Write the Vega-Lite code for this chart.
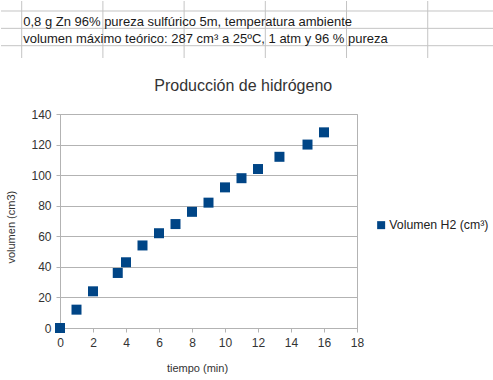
{
  "$schema": "https://vega.github.io/schema/vega-lite/v6.json",
  "padding": 0,
  "background": "white",
  "columns": 1,
  "spacing": 18,
  "config": {
    "font": "Liberation Sans",
    "view": {"stroke": "#b3b3b3"}
  },
  "resolve": {
    "scale": {"x": "independent", "y": "independent", "color": "independent"},
    "axis": {"x": "independent", "y": "independent"},
    "legend": {"color": "independent"}
  },
  "datasets": {
    "columnas": [{"col": 0}, {"col": 1}, {"col": 2}, {"col": 3}, {"col": 4}, {"col": 5}],
    "filas": [{"fila": 0}, {"fila": 1}, {"fila": 2}],
    "celdas": [
      {"col": 0, "fila": 1, "texto": "0,8 g Zn 96% pureza sulfúrico 5m, temperatura ambiente"},
      {"col": 0, "fila": 2, "texto": "volumen máximo teórico: 287 cm³ a 25ºC, 1 atm y 96 % pureza"}
    ],
    "medidas": [
      {"tiempo": 0, "volumen": 0},
      {"tiempo": 1, "volumen": 12},
      {"tiempo": 2, "volumen": 24},
      {"tiempo": 3.5, "volumen": 36},
      {"tiempo": 4, "volumen": 43},
      {"tiempo": 5, "volumen": 54},
      {"tiempo": 6, "volumen": 62},
      {"tiempo": 7, "volumen": 68},
      {"tiempo": 8, "volumen": 76},
      {"tiempo": 9, "volumen": 82},
      {"tiempo": 10, "volumen": 92},
      {"tiempo": 11, "volumen": 98},
      {"tiempo": 12, "volumen": 104},
      {"tiempo": 13.3, "volumen": 112},
      {"tiempo": 15, "volumen": 120},
      {"tiempo": 16, "volumen": 128}
    ]
  },
  "concat": [
    {
      "width": 434,
      "height": 57,
      "view": {"stroke": null},
      "layer": [
        {
          "data": {"name": "columnas"},
          "mark": {"type": "rule", "color": "#c4c4c4", "strokeWidth": 1},
          "encoding": {
            "x": {"field": "col", "type": "quantitative", "scale": {"domain": [0.4717, 5.816], "nice": false, "zero": false}, "axis": null}
          }
        },
        {
          "data": {"name": "filas"},
          "mark": {"type": "rule", "color": "#c4c4c4", "strokeWidth": 1},
          "encoding": {
            "x": {"datum": -0.255, "type": "quantitative", "scale": {"domain": [0.4717, 5.816], "nice": false, "zero": false}, "axis": null},
            "x2": {"datum": 5.816},
            "y": {"field": "fila", "type": "quantitative", "scale": {"domain": [-0.576, 2.709], "nice": false, "zero": false, "reverse": true}, "axis": null}
          }
        },
        {
          "data": {"name": "celdas"},
          "mark": {"type": "text", "align": "left", "baseline": "alphabetic", "dx": 1.5, "dy": -2.2, "fontSize": 13, "color": "#1a1a1a"},
          "encoding": {
            "x": {"field": "col", "type": "quantitative", "scale": {"domain": [0.4717, 5.816], "nice": false, "zero": false}, "axis": null},
            "y": {"field": "fila", "type": "quantitative", "scale": {"domain": [-0.576, 2.709], "nice": false, "zero": false, "reverse": true}, "axis": null},
            "text": {"field": "texto"}
          }
        }
      ]
    },
    {
      "width": 297,
      "height": 214,
      "title": {"text": "Producción de hidrógeno", "fontSize": 16, "fontWeight": "normal", "color": "#333333", "anchor": "middle", "frame": "bounds", "offset": 14, "dx": -4},
      "data": {"name": "medidas"},
      "mark": {"type": "point", "shape": "square", "filled": true, "size": 100, "opacity": 1},
      "encoding": {
        "x": {
          "field": "tiempo", "type": "quantitative",
          "scale": {"domain": [0, 18], "nice": false, "zero": false},
          "axis": {
            "values": [0, 2, 4, 6, 8, 10, 12, 14, 16, 18],
            "grid": false,
            "title": "tiempo (min)",
            "titleFontSize": 11, "titleFontWeight": "normal", "titleColor": "#333333",
            "titlePadding": 14, "titleX": 137,
            "labelFontSize": 12, "labelColor": "#333333", "labelPadding": 5,
            "labelFlush": false, "labelOverlap": false,
            "tickSize": 4, "tickColor": "#b3b3b3", "domainColor": "#b3b3b3"
          }
        },
        "y": {
          "field": "volumen", "type": "quantitative",
          "scale": {"domain": [0, 140], "nice": false},
          "axis": {
            "values": [0, 20, 40, 60, 80, 100, 120, 140],
            "grid": true, "gridColor": "#b3b3b3",
            "title": "volumen (cm3)",
            "titleFontSize": 11, "titleFontWeight": "normal", "titleColor": "#333333",
            "titlePadding": 14.5, "titleY": 112.7,
            "labelFontSize": 12, "labelColor": "#333333", "labelPadding": 5,
            "labelFlush": false, "labelOverlap": false,
            "tickSize": 4, "tickColor": "#b3b3b3", "domainColor": "#b3b3b3"
          }
        },
        "color": {
          "datum": "Volumen H2 (cm³)",
          "scale": {"range": ["#004586"]},
          "legend": {
            "title": null, "orient": "none", "legendX": 315, "legendY": 105,
            "symbolType": "square", "symbolSize": 64, "symbolStrokeWidth": 0,
            "labelFontSize": 12.3, "labelColor": "#222222", "labelOffset": 2, "padding": 0
          }
        }
      }
    }
  ]
}
